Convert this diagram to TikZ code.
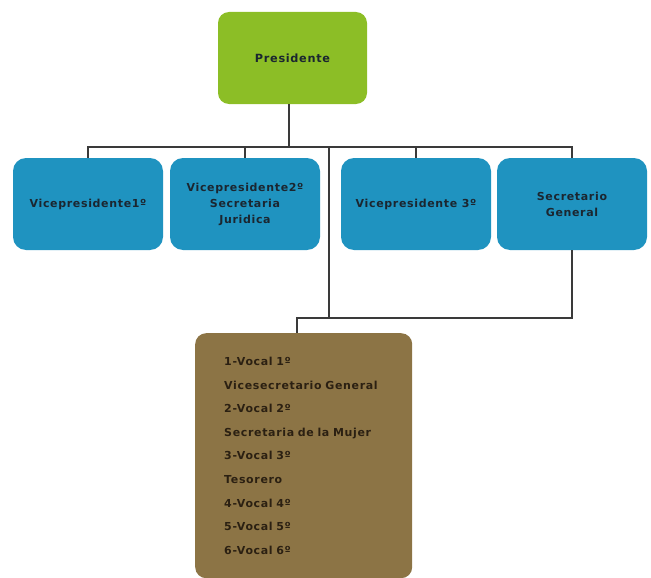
\documentclass[tikz,border=0pt]{standalone}
\usepackage{fontspec}
\setmainfont{DejaVu Sans}[LetterSpace=6]
\definecolor{presgreen}{HTML}{8CBE26}
\definecolor{vpblue}{HTML}{1F93C0}
\definecolor{vocalbrown}{HTML}{8C7445}
\definecolor{linegray}{HTML}{3A3A3A}
\definecolor{textdark}{HTML}{1B2630}
\definecolor{textbrown}{HTML}{2B2012}
\begin{document}
\begin{tikzpicture}[x=1pt,y=-1pt]
	\tikzstyle{presbox}=[rectangle,rounded corners=11pt,fill=presgreen,minimum width=149pt,minimum height=92pt,inner sep=0pt,font=\fontsize{11.3}{13}\bfseries,text=textdark,align=center]
	\tikzstyle{vpbox}=[rectangle,rounded corners=13pt,fill=vpblue,minimum width=150pt,minimum height=92pt,inner sep=0pt,font=\fontsize{11}{16}\bfseries,text=textdark,align=center]
	%\tikzstyle{vpbox}=[rectangle,rounded corners=13pt,fill=vpblue,minimum width=150pt,minimum height=92pt]
	\tikzstyle{vocalbox}=[rectangle,rounded corners=11pt,fill=vocalbrown,minimum height=245pt,text width=159pt,inner xsep=29pt,inner ysep=0pt,font=\fontsize{11}{23.6}\bfseries,text=textbrown,align=left]
	\tikzstyle{wire}=[draw=linegray,line width=1.2pt]
	\useasboundingbox (0,0) rectangle (651,578);
	\node[presbox] (pres) at (292.5,58) {Presidente};
	\node[vpbox] (vp1) at (88,204) {Vicepresidente1º};
	\node[vpbox] (vp2) at (245,204) {Vicepresidente2º\\Secretaria\\Juridica};
	\node[vpbox] (vp3) at (416,204) {Vicepresidente 3º};
	\node[vpbox] (sg) at (572,204) {Secretario\\General};
	\node[vocalbox,anchor=north west] (vocal) at (195,333) {1-Vocal 1º\\Vicesecretario General\\2-Vocal 2º\\Secretaria de la Mujer\\3-Vocal 3º\\Tesorero\\4-Vocal 4º\\5-Vocal 5º\\6-Vocal 6º};
	\coordinate (bus) at (289,147);
	\coordinate (hub) at (329,147);
	\coordinate (low) at (329,318);
	\coordinate (drop) at (297,318);
	\draw[wire] (pres.south -| bus) -- (bus);
	\draw[wire] (vp1.north) |- (bus) -| (sg.north);
	\draw[wire] (vp2.north) -- (vp2.north |- bus);
	\draw[wire] (vp3.north) -- (vp3.north |- bus);
	\draw[wire] (hub) -- (low);
	\draw[wire] (sg.south) |- (drop) -- (drop |- vocal.north);
\end{tikzpicture}
\end{document}
